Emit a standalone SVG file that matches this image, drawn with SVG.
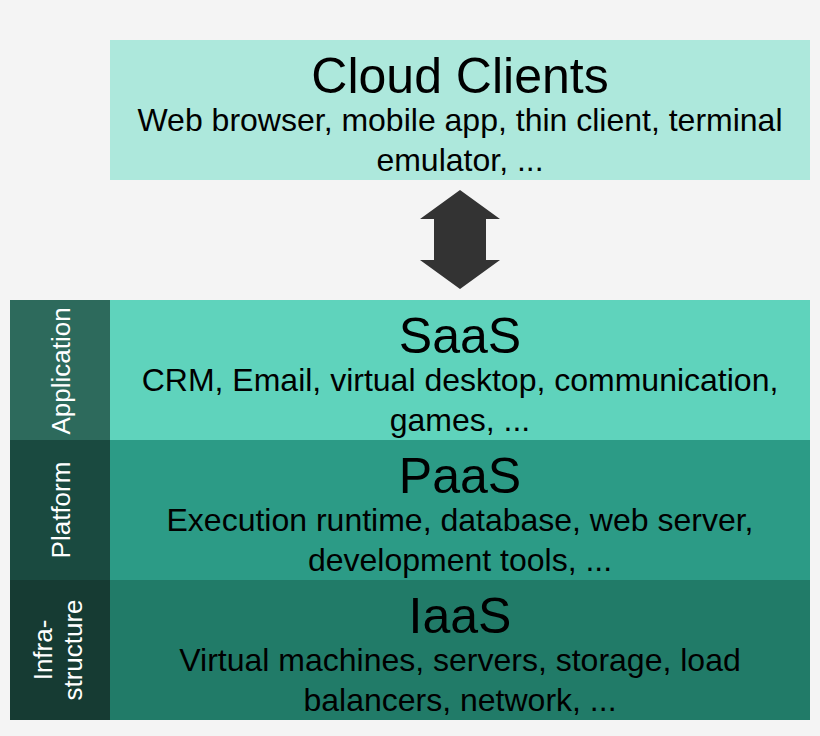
<svg xmlns="http://www.w3.org/2000/svg" width="820" height="736" viewBox="0 0 820 736">
<style>
.t{font-family:"Liberation Sans",Arial,sans-serif;fill:#000;text-anchor:middle}
.h{font-size:50px}.s{font-size:32px}
.side{font-family:"Liberation Sans",Arial,sans-serif;fill:#fff;font-size:26px;text-anchor:middle}
</style>
<rect width="820" height="736" fill="#f4f4f4"/>
<g id="clients">
<rect x="110" y="40" width="700" height="140" fill="#ade8dc"/>
<text class="t h" x="460" y="93">Cloud Clients</text>
<text class="t s" x="460" y="131">Web browser, mobile app, thin client, terminal</text>
<text class="t s" x="460" y="171">emulator, ...</text>
</g>
<g id="connectors">
<path d="M460,190 L500,219 L486,219 L486,260 L500,260 L460,289 L420,260 L434,260 L434,219 L420,219 Z" fill="#333"/>
</g>
<g id="saas">
<rect x="10" y="300" width="100" height="140" fill="#2d6a5c"/>
<rect x="110" y="300" width="700" height="140" fill="#5fd3bc"/>
<text class="side" transform="translate(70,371) rotate(-90)">Application</text>
<text class="t h" x="460" y="353">SaaS</text>
<text class="t s" x="460" y="391">CRM, Email, virtual desktop, communication,</text>
<text class="t s" x="460" y="431">games, ...</text>
</g>
<g id="paas">
<rect x="10" y="440" width="100" height="140" fill="#1a4a40"/>
<rect x="110" y="440" width="700" height="140" fill="#2c9b86"/>
<text class="side" transform="translate(70,510) rotate(-90)">Platform</text>
<text class="t h" x="460" y="493">PaaS</text>
<text class="t s" x="460" y="531">Execution runtime, database, web server,</text>
<text class="t s" x="460" y="571">development tools, ...</text>
</g>
<g id="iaas">
<rect x="10" y="580" width="100" height="140" fill="#163b33"/>
<rect x="110" y="580" width="700" height="140" fill="#217b68"/>
<text class="side" transform="translate(52,650) rotate(-90)">Infra-</text>
<text class="side" transform="translate(82,650) rotate(-90)">structure</text>
<text class="t h" x="460" y="633">IaaS</text>
<text class="t s" x="460" y="671">Virtual machines, servers, storage, load</text>
<text class="t s" x="460" y="711">balancers, network, ...</text>
</g>
</svg>
